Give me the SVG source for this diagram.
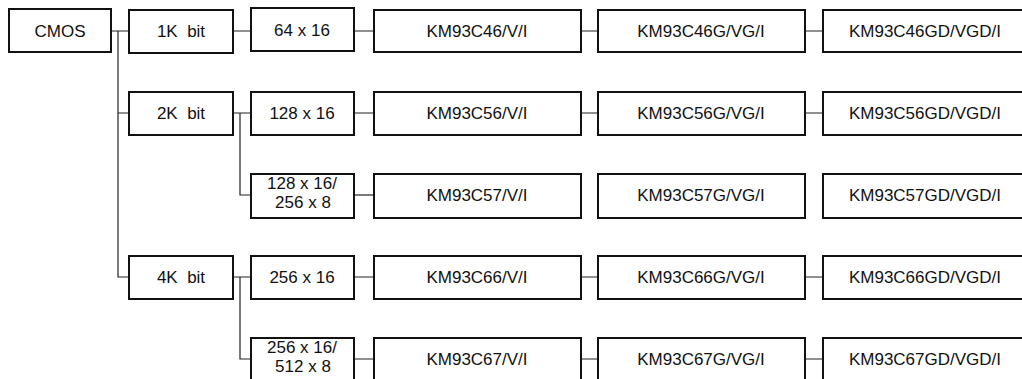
<svg xmlns="http://www.w3.org/2000/svg" width="1022" height="379" viewBox="0 0 1022 379">
<style>
.b{fill:#fff;stroke:#111;stroke-width:2}
.t{font-family:"Liberation Sans",Arial,sans-serif;font-size:17px;fill:#111;text-anchor:middle;white-space:pre}
.c{stroke:#222;stroke-width:1.2;fill:none}
</style>
<rect width="1022" height="379" fill="#fff"/>
<g id="connectors">
<path class="c" d="M111 31H129M118 31V277H129M118 113H129"/>
<path class="c" d="M233 31H251M233 113H251M240 113V195H251M233 277H251M240 277V359H251"/>
<path class="c" d="M354 31H374M581 31H598M805 31H823"/>
<path class="c" d="M354 113H374M581 113H598M805 113H823"/>
<path class="c" d="M354 195H374"/>
<path class="c" d="M354 277H374M581 277H598M805 277H823"/>
<path class="c" d="M354 359H374M581 359H598M805 359H823"/>
</g>
<g id="cmos"><rect class="b" x="9" y="9" width="102" height="43"/><text class="t" x="60" y="37">CMOS</text></g>
<g id="k1"><rect class="b" x="129" y="10" width="104" height="43"/><text class="t" x="181" y="37">1K  bit</text></g>
<g id="k2"><rect class="b" x="129" y="92" width="104" height="43"/><text class="t" x="181" y="119">2K  bit</text></g>
<g id="k4"><rect class="b" x="129" y="256" width="104" height="43"/><text class="t" x="181" y="283">4K  bit</text></g>
<g id="o64x16"><rect class="b" x="251" y="8" width="103" height="43"/><text class="t" x="302" y="36">64 x 16</text></g>
<g id="o128x16"><rect class="b" x="251" y="92" width="103" height="43"/><text class="t" x="302" y="119">128 x 16</text></g>
<g id="o128x16b"><rect class="b" x="251" y="174" width="103" height="44"/><text class="t" x="302" y="189">128 x 16/</text><text class="t" x="303" y="208">256 x 8</text></g>
<g id="o256x16"><rect class="b" x="251" y="256" width="103" height="43"/><text class="t" x="302" y="283">256 x 16</text></g>
<g id="o256x16b"><rect class="b" x="251" y="338" width="103" height="44"/><text class="t" x="302" y="353">256 x 16/</text><text class="t" x="303" y="372">512 x 8</text></g>
<g id="c46"><rect class="b" x="374" y="10" width="207" height="42"/><text class="t" x="477" y="37">KM93C46/V/I</text></g>
<g id="c46g"><rect class="b" x="598" y="10" width="207" height="42"/><text class="t" x="701" y="37">KM93C46G/VG/I</text></g>
<g id="c46gd"><rect class="b" x="823" y="10" width="205" height="42"/><text class="t" x="925" y="37">KM93C46GD/VGD/I</text></g>
<g id="c56"><rect class="b" x="374" y="92" width="207" height="43"/><text class="t" x="477" y="119">KM93C56/V/I</text></g>
<g id="c56g"><rect class="b" x="598" y="92" width="207" height="43"/><text class="t" x="701" y="119">KM93C56G/VG/I</text></g>
<g id="c56gd"><rect class="b" x="823" y="92" width="205" height="43"/><text class="t" x="925" y="119">KM93C56GD/VGD/I</text></g>
<g id="c57"><rect class="b" x="374" y="174" width="207" height="44"/><text class="t" x="477" y="201">KM93C57/V/I</text></g>
<g id="c57g"><rect class="b" x="598" y="174" width="207" height="44"/><text class="t" x="701" y="201">KM93C57G/VG/I</text></g>
<g id="c57gd"><rect class="b" x="823" y="174" width="205" height="44"/><text class="t" x="925" y="201">KM93C57GD/VGD/I</text></g>
<g id="c66"><rect class="b" x="374" y="256" width="207" height="43"/><text class="t" x="477" y="283">KM93C66/V/I</text></g>
<g id="c66g"><rect class="b" x="598" y="256" width="207" height="43"/><text class="t" x="701" y="283">KM93C66G/VG/I</text></g>
<g id="c66gd"><rect class="b" x="823" y="256" width="205" height="43"/><text class="t" x="925" y="283">KM93C66GD/VGD/I</text></g>
<g id="c67"><rect class="b" x="374" y="338" width="207" height="44"/><text class="t" x="477" y="365">KM93C67/V/I</text></g>
<g id="c67g"><rect class="b" x="598" y="338" width="207" height="44"/><text class="t" x="701" y="365">KM93C67G/VG/I</text></g>
<g id="c67gd"><rect class="b" x="823" y="338" width="205" height="44"/><text class="t" x="925" y="365">KM93C67GD/VGD/I</text></g>
</svg>
